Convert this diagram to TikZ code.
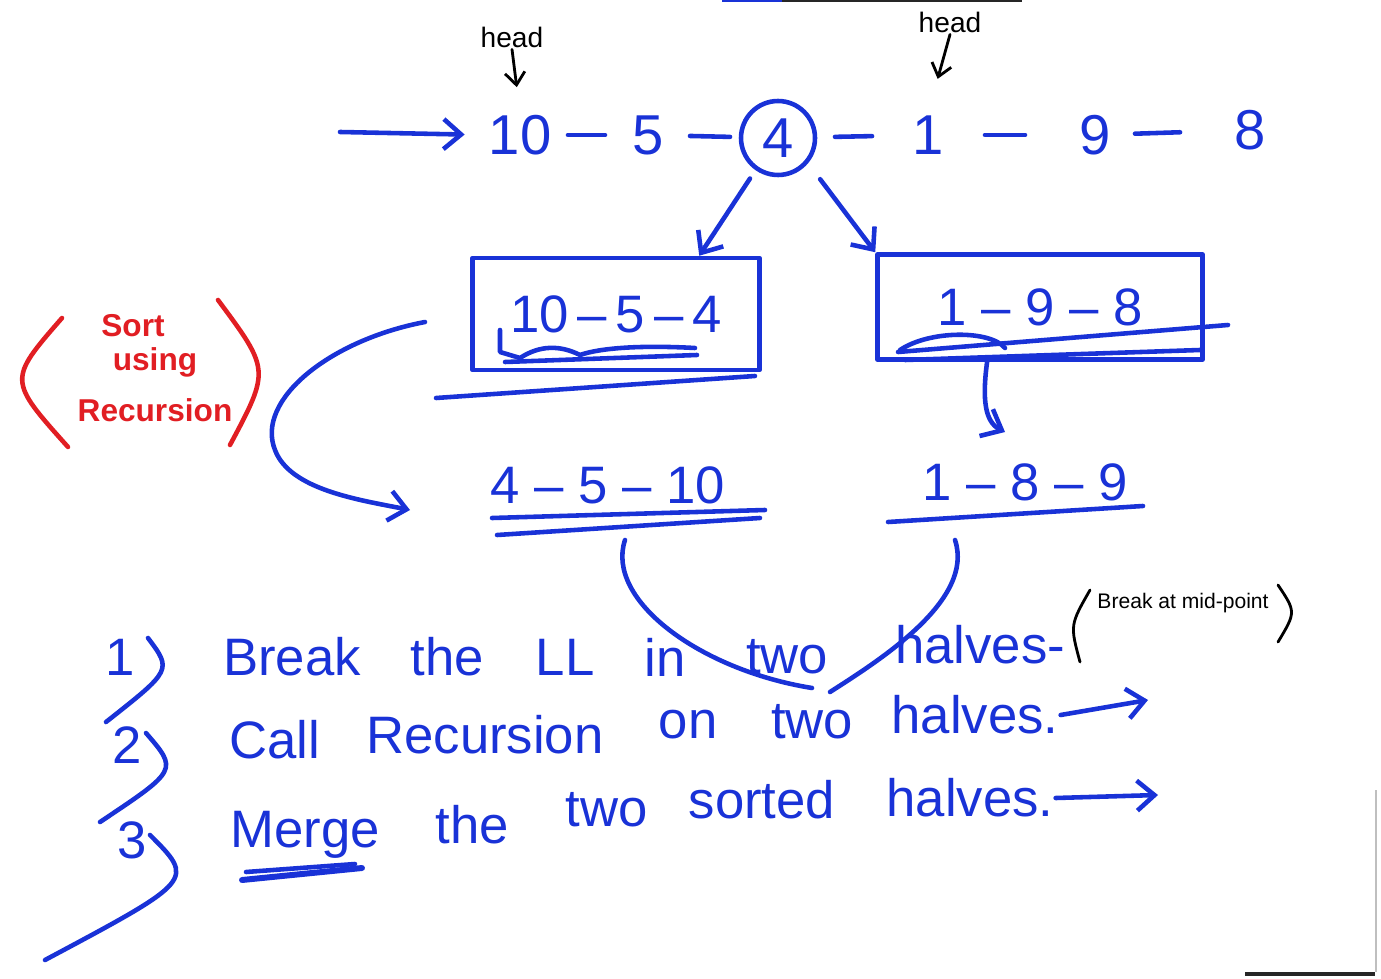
\documentclass[tikz,border=0pt]{standalone}
\usepackage{fontspec}
\setmainfont{Liberation Sans}
\usetikzlibrary{arrows.meta}
\definecolor{handblue}{RGB}{25,50,215}
\definecolor{handred}{RGB}{225,30,35}

\begin{document}
\begin{tikzpicture}[x=0.02cm,y=-0.02cm,
    ink/.style={draw=handblue,line width=2.6pt,line cap=round,line join=round},
    redink/.style={draw=handred,line width=2.6pt,line cap=round},
    penink/.style={draw=black,line width=1.6pt,line cap=round,line join=round},
    arr/.style={ink,-{Straight Barb[length=3.5mm,width=6mm]}},
    elem/.style={text=handblue,font=\fontsize{32}{38}\selectfont,inner sep=1pt},
    boxtxt/.style={text=handblue,font=\fontsize{30}{36}\selectfont,inner sep=1pt},
    word/.style={text=handblue,font=\fontsize{30}{36}\selectfont,inner sep=1pt},
    redtxt/.style={text=handred,font=\bfseries\fontsize{18}{22}\selectfont,inner sep=1pt},
    note/.style={text=black,font=\fontsize{12}{14}\selectfont,inner sep=1pt}]
    \useasboundingbox (0,0) rectangle (1381,979);
    % top list
    \node[note,font=\fontsize{16}{18}\selectfont] (headL) at (512,37) {head};
    \node[note,font=\fontsize{16}{18}\selectfont] (headR) at (950,22) {head};
    \node[elem] (n10) at (520,135) {10};
    \node[elem] (n5)  at (648,135) {5};
    \node[elem,ink,circle,minimum size=1.48cm] (n4) at (778,138) {4};
    \node[elem] (n1)  at (928,135) {1};
    \node[elem] (n9)  at (1095,135) {9};
    \node[elem] (n8)  at (1250,130) {8};
    \coordinate (entry) at (340,132);
    \draw[arr,shorten >=4.4mm] (entry) -- (n10.west);
    \draw[penink,-{Straight Barb[length=2.5mm,width=4mm]},shorten >=5.2mm] (headL.south) -- (n10.north);
    \draw[penink,-{Straight Barb[length=2.5mm,width=4mm]},shorten >=7.2mm] (headR.south) -- (n1.north);
    \draw[ink,shorten <=9.6mm,shorten >=8.6mm] (n10.center) -- (n5.center);
    \draw[ink,shorten <=8.4mm,shorten >=9.6mm] (n5.center) -- (n4.center);
    \draw[ink,shorten <=11.4mm,shorten >=11.2mm] (n4.center) -- (n1.center);
    \draw[ink,shorten <=11.4mm,shorten >=14mm] (n1.center) -- (n9.center);
    \draw[ink,shorten <=8mm,shorten >=14mm] (n9.center) -- (n8.center);
    % split boxes
    \node[boxtxt,ink,minimum width=5.74cm,minimum height=2.24cm] (boxL) at (616,314) {10\,--\,5\,--\,4};
    \node[boxtxt,ink,minimum width=6.5cm,minimum height=2.1cm] (boxR) at (1040,307) {1 -- 9 -- 8};
    \draw[arr,shorten <=2mm] (n4.235) -- (boxL.35);
    \draw[arr,shorten <=4mm] (n4.-40) -- (boxR.north west);
    \draw[ink] (500,330) -- (500,352) -- (520,358) .. controls (540,345) and (560,345) .. (580,355)
        .. controls (600,348) and (640,345) .. (695,348);
    \draw[ink] (505,362) -- (697,355);
    \draw[ink] (436,398) -- (755,376);
    \draw[ink] (900,350) .. controls (930,330) and (990,330) .. (1005,348);
    \draw[ink] (898,352) -- (1228,325);
    \draw[ink] (905,360) -- (1200,350);
    % sorted halves
    \node[boxtxt] (sortL) at (608,485) {4 -- 5 -- 10};
    \node[boxtxt] (sortR) at (1025,482) {1 -- 8 -- 9};
    \draw[ink] (492,518) -- (765,510);
    \draw[ink] (497,535) -- (760,518);
    \draw[ink] (888,522) -- (1143,506);
    \coordinate (tipR) at (1005,432);
    \draw[arr] (boxR.-134) .. controls (982,400) and (985,422) .. (tipR);
    \coordinate (recA) at (425,322);
    \coordinate (recB) at (410,510);
    \draw[arr] (recA) .. controls (330,340) and (255,400) .. (275,450) .. controls (290,490) and (360,500) .. (recB);
    \coordinate (splitL) at (625,540);
    \coordinate (splitR) at (955,540);
    \coordinate (joinL) at (812,688);
    \coordinate (joinR) at (830,692);
    \draw[ink] (splitL) .. controls (605,600) and (700,670) .. (joinL);
    \draw[ink] (splitR) .. controls (975,600) and (880,660) .. (joinR);
    % red note
    \node[redtxt] (sort) at (133,326) {Sort};
    \node[redtxt] (using) at (155,362) {using};
    \node[redtxt] (recur) at (155,410) {Recursion};
    \draw[redink] (62,318) .. controls (8,380) .. (68,447);
    \draw[redink] (218,300) .. controls (270,370) .. (230,445);
    % steps
    \node[word] (s1) at (120,657) {1};
    \node[word] (s2) at (127,745) {2};
    \node[word] (s3) at (132,840) {3};
    \draw[ink] (148,638) .. controls (172,670) .. (106,722);
    \draw[ink] (146,733) .. controls (178,770) .. (100,822);
    \draw[ink] (150,835) .. controls (195,880) .. (45,960);
    \node[word] (w1a) at (292,657) {Break};
    \node[word] (w1b) at (447,657) {the};
    \node[word] (w1c) at (565,657) {LL};
    \node[word] (w1d) at (665,657) {in};
    \node[word] (w1e) at (787,657) {two};
    \node[word] (w1f) at (980,645) {halves-};
    \node[note] (mid) at (1183,603) {Break at mid-point};
    \draw[penink] (1090,590) .. controls (1070,625) .. (1080,662);
    \draw[penink] (1278,585) .. controls (1296,612) .. (1278,642);
    \node[word] (w2a) at (275,740) {Call};
    \node[word] (w2b) at (485,735) {Recursion};
    \node[word] (w2c) at (688,725) {on};
    \node[word] (w2d) at (812,722) {two};
    \node[word] (w2e) at (975,715) {halves.};
    \coordinate (tip2) at (1148,700);
    \draw[arr] (w2e.east) -- (tip2);
    \node[word] (w3a) at (305,835) {Merge};
    \node[word] (w3b) at (472,825) {the};
    \node[word] (w3c) at (607,810) {two};
    \node[word] (w3d) at (762,800) {sorted};
    \node[word] (w3e) at (970,798) {halves.};
    \coordinate (tip3) at (1158,795);
    \draw[arr] (w3e.east) -- (tip3);
    \draw[ink,line width=3.4pt] (242,880) -- (362,868);
    \draw[ink] (246,872) -- (355,864);
    % screen edges
    \draw[handblue,line width=1.5pt] (722,1) -- (782,1);
    \draw[black!85,line width=1.5pt] (782,1) -- (1022,1);
    \draw[black!25,line width=0.8pt] (1376,790) -- (1376,972);
    \draw[black!85,line width=2pt] (1245,974) -- (1375,974);
\end{tikzpicture}
\end{document}
